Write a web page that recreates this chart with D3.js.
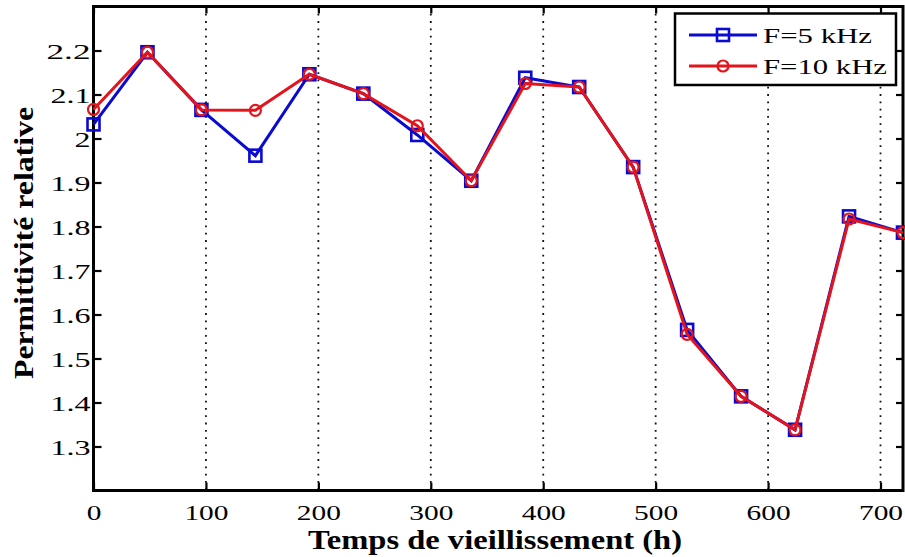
<!DOCTYPE html>
<html lang="fr">
<head>
<meta charset="utf-8">
<title>Permittivité relative</title>
<script src="https://d3js.org/d3.v7.min.js"></script>
<style>
  body { margin: 0; background: #fff; }
  svg { display: block; }
  text { font-family: "Liberation Serif", "Times New Roman", serif; fill: #000; }
</style>
</head>
<body>
<script>
// temps de vieillissement (h)
var hours = [0, 48, 96, 144, 192, 240, 288, 336, 384, 432, 480, 528, 576, 624, 672, 720];
// permittivite relative a 5 kHz et 10 kHz
var f5k  = [2.032, 2.196, 2.065, 1.961, 2.146, 2.102, 2.008, 1.904, 2.138, 2.117, 1.935, 1.565, 1.414, 1.338, 1.823, 1.786];
var f10k = [2.066, 2.196, 2.065, 2.064, 2.146, 2.102, 2.029, 1.904, 2.125, 2.117, 1.935, 1.555, 1.414, 1.338, 1.817, 1.786];
var xTicks = [0, 100, 200, 300, 400, 500, 600, 700];
var yTicks = [1.3, 1.4, 1.5, 1.6, 1.7, 1.8, 1.9, 2.0, 2.1, 2.2];
var seriesNames = ["F=5 kHz", "F=10 kHz"];

var w = 905, h = 557;
var pLeft = 93.5, pRight = 903, pTop = 6.5, pBottom = 490.5;
var blue = "#0a0ad0", red = "#e3141c";

var svg = d3.select("body").append("svg")
  .attr("width", w)
  .attr("height", h);

var x = d3.scaleLinear().domain([0, 720]).range([pLeft, pRight]);
var y = d3.scaleLinear().domain([1.2, 2.3]).range([pBottom, pTop]);

// dotted vertical grid
svg.append("g").selectAll("line")
  .data(xTicks.filter(function(d) { return d > 0; }))
  .enter().append("line")
  .attr("x1", function(d) { return x(d); })
  .attr("x2", function(d) { return x(d); })
  .attr("y1", pTop)
  .attr("y2", pBottom)
  .attr("stroke", "#111")
  .attr("stroke-width", 1.8)
  .attr("stroke-dasharray", "1.8,5.5");

// axes, matlab style: ticks inward on the four sides
function numWidth(s, dig) {
  var wd = 0;
  for (var i = 0; i < s.length; i++) {
    var c = s[i];
    wd += c === "." ? 12 : (c === "1" ? 12 : dig);
  }
  return wd;
}
function fmt(d) { return String(+d.toFixed(1)); }

var xAxis = svg.append("g")
  .attr("transform", "translate(0," + pBottom + ")")
  .call(d3.axisBottom(x).tickValues(xTicks).tickSizeInner(-8).tickSizeOuter(0).tickFormat(fmt));
xAxis.selectAll("text")
  .attr("y", 29.5).attr("dy", null)
  .style("font-size", "22px")
  .attr("textLength", function(d) { return fmt(d).length * 14.7; })
  .attr("lengthAdjust", "spacingAndGlyphs");

svg.append("g")
  .attr("transform", "translate(0," + pTop + ")")
  .call(d3.axisTop(x).tickValues(xTicks).tickSizeInner(-7).tickSizeOuter(0).tickFormat(""));

var yAxis = svg.append("g")
  .attr("transform", "translate(" + pLeft + ",0)")
  .call(d3.axisLeft(y).tickValues(yTicks).tickSizeInner(-8).tickSizeOuter(0).tickFormat(fmt));
yAxis.selectAll("text")
  .attr("x", -3).attr("dy", null).attr("y", 8)
  .style("font-size", "22px")
  .attr("textLength", function(d) { return numWidth(fmt(d), 16); })
  .attr("lengthAdjust", "spacingAndGlyphs");

svg.append("g")
  .attr("transform", "translate(" + pRight + ",0)")
  .call(d3.axisRight(y).tickValues(yTicks).tickSizeInner(-7).tickSizeOuter(0).tickFormat(""));

svg.selectAll(".domain").remove();
svg.selectAll(".tick line").attr("stroke", "#000").attr("stroke-width", 2.2);

// frame
svg.append("rect")
  .attr("x", pLeft).attr("y", pTop)
  .attr("width", pRight - pLeft).attr("height", pBottom - pTop)
  .attr("fill", "none")
  .attr("stroke", "#000")
  .attr("stroke-width", 3);

// lines
var line = d3.line()
  .x(function(d) { return x(d[0]); })
  .y(function(d) { return y(d[1]); });

var data5 = hours.map(function(t, i) { return [t, f5k[i]]; });
var data10 = hours.map(function(t, i) { return [t, f10k[i]]; });

svg.append("path").datum(data5)
  .attr("d", line).attr("fill", "none")
  .attr("stroke", blue).attr("stroke-width", 3);

svg.selectAll(".sq")
  .data(data5)
  .enter().append("rect")
  .attr("class", "sq")
  .attr("x", function(d) { return x(d[0]) - 6; })
  .attr("y", function(d) { return y(d[1]) - 6; })
  .attr("width", 12).attr("height", 12)
  .attr("fill", "none")
  .attr("stroke", blue).attr("stroke-width", 2.6);

svg.append("path").datum(data10)
  .attr("d", line).attr("fill", "none")
  .attr("stroke", red).attr("stroke-width", 3);

svg.selectAll(".ci")
  .data(data10)
  .enter().append("circle")
  .attr("class", "ci")
  .attr("cx", function(d) { return x(d[0]); })
  .attr("cy", function(d) { return y(d[1]); })
  .attr("r", 5.5)
  .attr("fill", "none")
  .attr("stroke", red).attr("stroke-width", 2.2);

// axis titles
svg.append("text")
  .attr("x", 495).attr("y", 549)
  .attr("text-anchor", "middle")
  .attr("font-weight", "bold")
  .style("font-size", "27px")
  .attr("textLength", 374)
  .attr("lengthAdjust", "spacingAndGlyphs")
  .text("Temps de vieillissement (h)");

svg.append("text")
  .attr("transform", "translate(33,243)rotate(-90)")
  .attr("text-anchor", "middle")
  .attr("font-weight", "bold")
  .style("font-size", "28px")
  .attr("textLength", 272)
  .attr("lengthAdjust", "spacingAndGlyphs")
  .text("Permittivité relative");

// legend
var lg = svg.append("g");
lg.append("rect")
  .attr("x", 675).attr("y", 13.5)
  .attr("width", 221).attr("height", 71.5)
  .attr("fill", "#fff")
  .attr("stroke", "#000")
  .attr("stroke-width", 2.5);

var rows = lg.selectAll(".row")
  .data(seriesNames)
  .enter().append("g")
  .attr("class", "row")
  .attr("transform", function(d, i) { return "translate(0," + (35 + i * 31) + ")"; });

rows.append("line")
  .attr("x1", 689).attr("x2", 757)
  .attr("stroke", function(d, i) { return i === 0 ? blue : red; })
  .attr("stroke-width", 2.8);

rows.filter(function(d, i) { return i === 0; })
  .append("rect")
  .attr("x", 717).attr("y", -6)
  .attr("width", 12).attr("height", 12)
  .attr("fill", "none")
  .attr("stroke", blue).attr("stroke-width", 2.6);

rows.filter(function(d, i) { return i === 1; })
  .append("circle")
  .attr("cx", 723).attr("r", 5.5)
  .attr("fill", "none")
  .attr("stroke", red).attr("stroke-width", 2.2);

rows.append("text")
  .attr("x", 763).attr("y", 7.5)
  .style("font-size", "22px")
  .attr("textLength", function(d, i) { return i === 0 ? 109 : 124; })
  .attr("lengthAdjust", "spacingAndGlyphs")
  .text(function(d) { return d; });
</script>
</body>
</html>
